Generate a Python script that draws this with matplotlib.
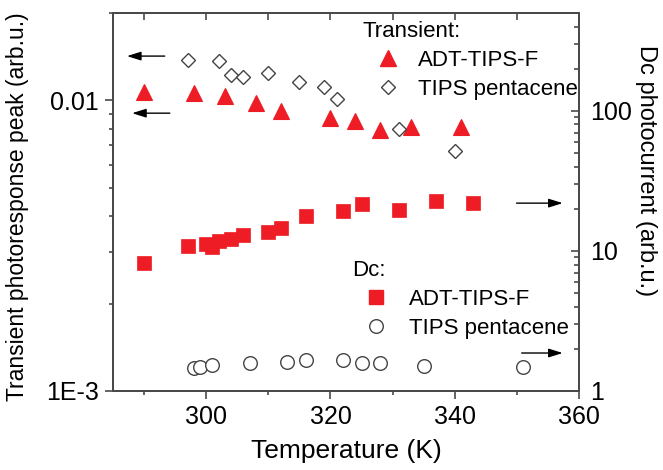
import matplotlib
matplotlib.use("Agg")
import matplotlib.pyplot as plt
from matplotlib.ticker import FixedLocator, NullFormatter, LogLocator
from matplotlib.lines import Line2D

plt.rcParams['font.family'] = ['Liberation Sans', 'DejaVu Sans']

# Transient photoresponse peak (left axis)
trans_adt_T = [290, 298, 303, 308, 312, 320, 324, 328, 333, 341]
trans_adt = [0.0107, 0.0106, 0.0104, 0.0098, 0.0092, 0.0087, 0.0085, 0.0079, 0.0081, 0.0081]

trans_tips_T = [297, 302, 304, 306, 310, 315, 319, 321, 331, 340]
trans_tips = [0.0138, 0.0137, 0.0122, 0.0120, 0.0124, 0.0116, 0.0111, 0.0101, 0.0080, 0.0067]

# Dc photocurrent (right axis)
dc_adt_T = [290, 297, 300, 301, 302, 304, 306, 310, 312, 316, 322, 325, 331, 337, 343]
dc_adt = [8.2, 10.9, 11.2, 10.7, 11.8, 12.2, 12.9, 13.6, 14.7, 17.8, 19.3, 21.7, 19.6, 22.9, 21.9]

dc_tips_T = [298, 299, 301, 307, 313, 316, 322, 325, 328, 335, 351]
dc_tips = [1.45, 1.48, 1.53, 1.59, 1.60, 1.67, 1.67, 1.58, 1.58, 1.52, 1.49]

x_major = [300, 320, 340, 360]
x_minor = [290, 310, 330, 350]
left_ticks = [1e-3, 1e-2]
left_labels = ['1E-3', '0.01']
right_ticks = [1, 10, 100]
right_labels = ['1', '10', '100']

RED = '#ee1c25'
GREY = '#444444'
SPINE = '#4a4a4a'
TICK_FS = 18
LEG_FS = 16
LAB_FS = 16.5

fig = plt.figure(figsize=(6.63, 4.70), dpi=100)
ax = fig.add_axes([113 / 663, 1 - 391 / 470, 466 / 663, 378 / 470])
ax2 = ax.twinx()

# data
ax.plot(trans_adt_T, trans_adt, ls='none', marker='^', ms=11.5, mfc=RED, mec=RED,
        mew=0.8, label='ADT-TIPS-F')
ax.plot(trans_tips_T, trans_tips, ls='none', marker='D', ms=6.8, mfc='white', mec=GREY,
        mew=1.0, label='TIPS pentacene')
ax2.plot(dc_adt_T, dc_adt, ls='none', marker='s', ms=9.8, mfc=RED, mec=RED,
         mew=0.5, label='ADT-TIPS-F')
ax2.plot(dc_tips_T, dc_tips, ls='none', marker='o', ms=9.8, mfc='white', mec=GREY,
         mew=1.0, label='TIPS pentacene')

# x axis
ax.set_xlim(285, 360)
ax.xaxis.set_major_locator(FixedLocator(x_major))
ax.xaxis.set_minor_locator(FixedLocator(x_minor))
ax.set_xticklabels([str(v) for v in x_major])
ax.tick_params(axis='x', which='major', direction='out', length=6, width=1.2,
               color=SPINE, labelsize=TICK_FS, pad=4)
ax.tick_params(axis='x', which='minor', direction='out', length=3, width=1.2, color=SPINE)

top = ax.secondary_xaxis('top')
top.xaxis.set_major_locator(FixedLocator(x_major))
top.xaxis.set_minor_locator(FixedLocator(x_minor))
top.tick_params(axis='x', which='both', direction='in', length=5, width=1.2,
                color=SPINE, labeltop=False)
top.spines['top'].set_color(SPINE)
top.spines['top'].set_linewidth(1.4)

# left axis
ax.set_yscale('log')
ax.set_ylim(1e-3, 2e-2)
ax.yaxis.set_major_locator(FixedLocator(left_ticks))
ax.set_yticklabels(left_labels)
ax.yaxis.set_minor_locator(LogLocator(base=10, subs=range(2, 10)))
ax.yaxis.set_minor_formatter(NullFormatter())
ax.tick_params(axis='y', which='major', direction='out', length=6, width=1.2,
               color=SPINE, labelsize=TICK_FS, pad=4)
ax.tick_params(axis='y', which='minor', direction='out', length=3, width=1.2, color=SPINE)

# right axis
ax2.set_yscale('log')
ax2.set_ylim(1, 500)
ax2.yaxis.set_major_locator(FixedLocator(right_ticks))
ax2.set_yticklabels(right_labels)
ax2.yaxis.set_minor_locator(LogLocator(base=10, subs=range(2, 10)))
ax2.yaxis.set_minor_formatter(NullFormatter())
ax2.tick_params(axis='y', which='major', direction='in', length=6, width=1.2,
                color=SPINE, labelsize=TICK_FS, pad=8)
ax2.tick_params(axis='y', which='minor', direction='in', length=3.5, width=1.2, color=SPINE)

for a in (ax, ax2):
    for s in a.spines.values():
        s.set_color(SPINE)
        s.set_linewidth(1.4)

ax.set_xlabel('Temperature (K)', fontsize=LAB_FS + 2.5)
ax.xaxis.set_label_coords(0.5, -0.128)
ax.set_ylabel('Transient photoresponse peak (arb.u.)', fontsize=LAB_FS)
ax.yaxis.set_label_coords(-0.18, 0.488)
ax2.set_ylabel('Dc photocurrent (arb.u.)', fontsize=LAB_FS + 0.5, rotation=-90)
ax2.yaxis.set_label_coords(1.168, 0.582)

# axis-direction arrows
arrow_kw = dict(arrowstyle='-|>,head_length=0.7,head_width=0.22', color='black',
                lw=1.0, mutation_scale=12, shrinkA=0, shrinkB=0)
for (x0, x1, y) in [(0.111, 0.030, 0.886), (0.122, 0.041, 0.735)]:
    ax2.annotate('', xy=(x1, y), xytext=(x0, y), xycoords='axes fraction',
                 textcoords='axes fraction', arrowprops=arrow_kw)
for (x0, x1, y) in [(0.866, 0.965, 0.497), (0.877, 0.965, 0.1005)]:
    ax2.annotate('', xy=(x1, y), xytext=(x0, y), xycoords='axes fraction',
                 textcoords='axes fraction', arrowprops=arrow_kw)

# legends
h_t = [Line2D([], [], ls='none', marker='^', ms=11.5, mfc=RED, mec=RED),
       Line2D([], [], ls='none', marker='D', ms=6.8, mfc='white', mec=GREY, mew=1.0)]
leg1 = ax2.legend(h_t, ['ADT-TIPS-F', 'TIPS pentacene'], title='Transient:',
                  loc='upper left', bbox_to_anchor=(0.536, 0.979), frameon=False,
                  fontsize=LEG_FS, title_fontsize=LEG_FS, alignment='left',
                  borderpad=0, borderaxespad=0, handlelength=2.25, handletextpad=0.25,
                  labelspacing=0.36, numpoints=1)
ax2.add_artist(leg1)

h_d = [Line2D([], [], ls='none', marker='s', ms=9.8, mfc=RED, mec=RED),
       Line2D([], [], ls='none', marker='o', ms=9.8, mfc='white', mec=GREY, mew=1.0)]
ax2.legend(h_d, ['ADT-TIPS-F', 'TIPS pentacene'], title='Dc:',
           loc='upper left', bbox_to_anchor=(0.514, 0.346), frameon=False,
           fontsize=LEG_FS, title_fontsize=LEG_FS, alignment='left',
           borderpad=0, borderaxespad=0, handlelength=2.1, handletextpad=0.42,
           labelspacing=0.36, numpoints=1)

fig.savefig('out.png', dpi=100)
